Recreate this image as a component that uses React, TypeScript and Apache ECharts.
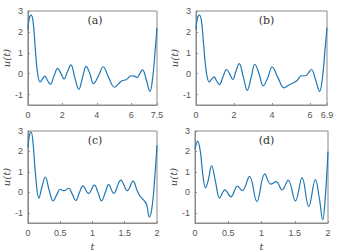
import React, { useEffect, useRef } from "react";
import * as echarts from "echarts";

// Panel (a)
const tA = [0, 0.08, 0.19, 0.3, 0.42, 0.55, 0.71, 0.85, 0.98, 1.15, 1.31, 1.52, 1.73, 1.92, 2.1, 2.3, 2.5, 2.73, 2.96, 3.17, 3.38, 3.6, 3.81, 4.1, 4.37, 4.7, 5.03, 5.25, 5.44, 5.72, 6.0, 6.17, 6.34, 6.5, 6.66, 6.88, 7.09, 7.25, 7.4, 7.5];
const uA = [2.1, 2.65, 2.8, 2.5, 1.3, 0.1, -0.4, -0.25, -0.12, -0.35, -0.5, -0.1, 0.25, 0.0, -0.25, 0.1, 0.42, -0.2, -0.75, -0.2, 0.35, 0.0, -0.48, -0.1, 0.33, -0.2, -0.65, -0.5, -0.35, -0.28, -0.1, -0.12, -0.18, 0.0, 0.18, -0.3, -0.85, -0.2, 1.2, 2.2];
// Panel (b)
const tB = [0, 0.07, 0.18, 0.29, 0.41, 0.54, 0.7, 0.83, 0.95, 1.09, 1.23, 1.42, 1.61, 1.77, 1.93, 2.1, 2.28, 2.49, 2.7, 2.9, 3.1, 3.32, 3.54, 3.78, 4.01, 4.32, 4.64, 4.88, 5.11, 5.35, 5.55, 5.78, 5.93, 6.08, 6.3, 6.51, 6.66, 6.8, 6.9];
const uB = [2.1, 2.65, 2.8, 2.5, 1.3, 0.1, -0.4, -0.25, -0.15, -0.35, -0.52, -0.15, 0.2, 0.0, -0.28, 0.1, 0.48, -0.15, -0.8, -0.2, 0.45, 0.0, -0.58, -0.2, 0.32, -0.2, -0.68, -0.55, -0.45, -0.3, -0.1, -0.1, 0.05, 0.2, -0.3, -0.85, -0.2, 1.2, 2.2];
// Panel (c)
const tC = [0, 0.025, 0.05, 0.08, 0.12, 0.17, 0.22, 0.27, 0.33, 0.39, 0.45, 0.5, 0.56, 0.63, 0.69, 0.74, 0.8, 0.85, 0.94, 1.03, 1.09, 1.14, 1.2, 1.25, 1.33, 1.44, 1.54, 1.63, 1.69, 1.74, 1.8, 1.84, 1.88, 1.92, 1.96, 2.0];
const uC = [2.2, 2.8, 2.95, 2.4, 0.8, -0.28, 0.3, 0.75, 0.1, -0.42, -0.1, 0.15, 0.08, 0.2, -0.1, -0.4, 0.0, 0.32, -0.05, 0.35, -0.05, -0.42, 0.0, 0.38, -0.05, 0.6, 0.08, 0.55, 0.1, -0.2, -0.4, -0.6, -1.2, -0.8, 0.5, 2.3];
// Panel (d)
const tD = [0, 0.04, 0.08, 0.12, 0.16, 0.2, 0.25, 0.31, 0.37, 0.45, 0.54, 0.64, 0.71, 0.82, 0.93, 1.05, 1.14, 1.22, 1.31, 1.4, 1.51, 1.61, 1.71, 1.81, 1.87, 1.92, 1.96, 2.0];
const uD = [2.1, 2.5, 2.0, 0.8, 0.22, 0.6, 1.3, 0.5, -0.28, 0.12, -0.22, 0.3, 0.08, 0.78, -0.45, 0.9, 0.4, 0.52, 0.12, 0.6, -0.42, 0.72, -0.7, 0.62, -0.3, -1.35, -0.2, 2.0];

const yTicks = [-1, 0, 1, 2, 3];
const xTicksA = [0, 2, 4, 6, 7.5];
const xTicksB = [0, 2, 4, 6, 6.9];
const xTicksCD = [0, 0.5, 1, 1.5, 2];
const labels = ["(a)", "(b)", "(c)", "(d)"];

const zip = (t: number[], u: number[]) => t.map((x, i) => [x, u[i]]);

export default function App() {
  const ref = useRef<HTMLDivElement>(null);
  useEffect(() => {
    document.body.style.margin = "0";
    const chart = echarts.init(ref.current!, null, { renderer: "svg" });
    const grids = [
      { left: 23, top: 11, width: 134, height: 94 },
      { left: 196, top: 11, width: 131, height: 94 },
      { left: 23, top: 131, width: 134, height: 94 },
      { left: 195, top: 131, width: 133, height: 94 },
    ];
    const xTicks = [xTicksA, xTicksB, xTicksCD, xTicksCD];
    const xMax = [7.5, 6.9, 2, 2];
    const data = [zip(tA, uA), zip(tB, uB), zip(tC, uC), zip(tD, uD)];
    const axisColor = "#8a8a8a";
    const labelStyle = { color: "#555", fontSize: 9, fontFamily: "Liberation Sans" };
    chart.setOption({
      animation: false,
      backgroundColor: "#fff",
      title: grids.map((g, i) => ({
        text: labels[i],
        left: g.left + g.width / 2,
        top: g.top - 1,
        textAlign: "center",
        textStyle: { fontFamily: "DejaVu Serif", fontWeight: "normal", fontSize: 11, color: "#333" },
      })),
      grid: grids.map((g) => ({ ...g, show: true, borderColor: axisColor, borderWidth: 1, backgroundColor: "#fff" })),
      xAxis: grids.map((g, i) => ({
        type: "value",
        gridIndex: i,
        min: 0,
        max: xMax[i],
        name: i >= 2 ? "t" : "",
        nameLocation: "middle",
        nameGap: 18,
        nameTextStyle: { fontFamily: "DejaVu Serif", fontStyle: "italic", fontSize: 10, color: "#444" },
        axisLine: { show: true, onZero: false, lineStyle: { color: axisColor } },
        axisTick: { show: true, inside: true, length: 2, customValues: xTicks[i], lineStyle: { color: axisColor } },
        axisLabel: { customValues: xTicks[i], margin: 5, ...labelStyle, formatter: (v: number) => String(v) },
        splitLine: { show: false },
      })),
      yAxis: grids.map((g, i) => ({
        type: "value",
        gridIndex: i,
        min: -1.5,
        max: 3,
        name: "u(t)",
        nameLocation: "middle",
        nameGap: 14,
        nameTextStyle: { fontFamily: "DejaVu Serif", fontStyle: "italic", fontSize: 10, color: "#444" },
        axisLine: { show: true, onZero: false, lineStyle: { color: axisColor } },
        axisTick: { show: true, inside: true, length: 2, customValues: yTicks, lineStyle: { color: axisColor } },
        axisLabel: { customValues: yTicks, margin: 5, ...labelStyle, formatter: (v: number) => String(v) },
        splitLine: { show: false },
      })),
      series: data.map((d, i) => ({
        type: "line",
        xAxisIndex: i,
        yAxisIndex: i,
        data: d,
        smooth: 0.4,
        showSymbol: false,
        lineStyle: { color: "#1f77b4", width: 1.2 },
      })),
    });
    return () => chart.dispose();
  }, []);
  return <div ref={ref} style={{ width: 346, height: 252 }} />;
}
